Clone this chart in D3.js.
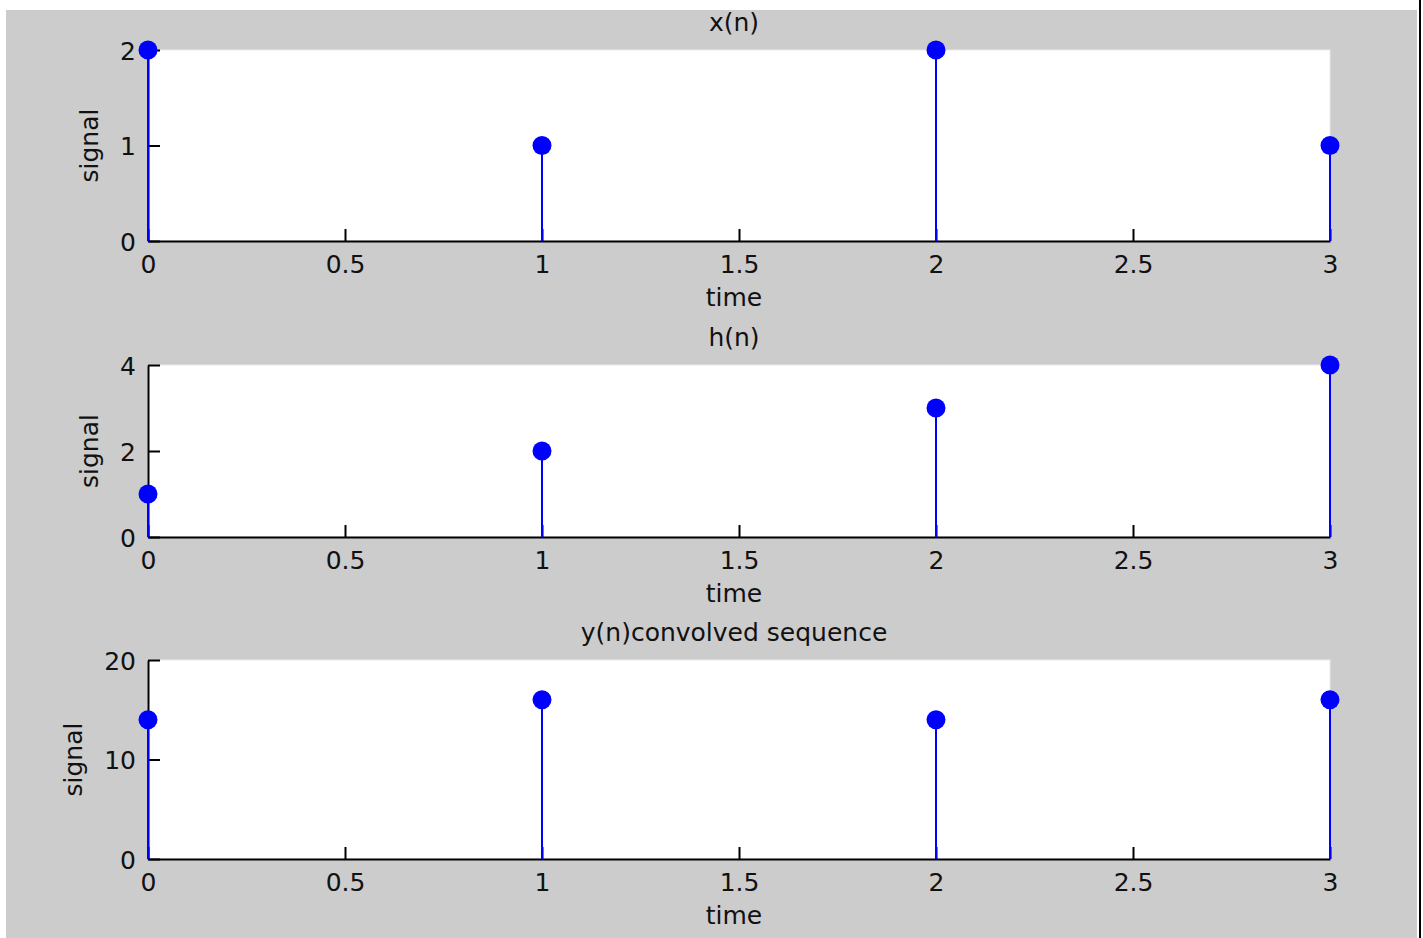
<!DOCTYPE html>
<html>
<head>
<meta charset="utf-8">
<script src="https://cdn.jsdelivr.net/npm/d3@7"></script>
<style>
  html, body { margin: 0; padding: 0; background: #ffffff; }
  svg { display: block; }
  text { font-family: "DejaVu Sans", Verdana, sans-serif; fill: #111; }
</style>
</head>
<body>
<script>
// Discrete-time sequences (sample index n = 0..3)
const times = [0, 1, 2, 3];
const xSeq = [2, 1, 2, 1];          // input x(n)
const hSeq = [1, 2, 3, 4];          // impulse response h(n)
const ySeq = [14, 16, 14, 16];      // circular convolution y(n)

const titles = ["x(n)", "h(n)", "y(n)convolved sequence"];
const xTicks = [0, 0.5, 1, 1.5, 2, 2.5, 3];
const yTicks1 = [0, 1, 2];
const yTicks2 = [0, 2, 4];
const yTicks3 = [0, 10, 20];
const yMax = [2, 4, 20];
const xLabel = "time";
const yLabel = "signal";

const W = 1423, H = 938;
const svg = d3.select("body").append("svg").attr("width", W).attr("height", H);

// figure background and window edge
svg.append("rect").attr("x", 6).attr("y", 10).attr("width", 1411).attr("height", H - 10).attr("fill", "#cccccc");
svg.append("rect").attr("x", 1419).attr("y", 0).attr("width", 2).attr("height", H).attr("fill", "#000");

const left = 148, right = 1330;
const panels = [
  { top: 50, bottom: 241, data: xSeq, ticks: yTicks1, max: yMax[0], title: titles[0], labelX: 90 },
  { top: 365, bottom: 537, data: hSeq, ticks: yTicks2, max: yMax[1], title: titles[1], labelX: 90 },
  { top: 660, bottom: 859, data: ySeq, ticks: yTicks3, max: yMax[2], title: titles[2], labelX: 74 }
];

const fs = 25;
const x = d3.scaleLinear().domain([0, 3]).range([left, right]);

panels.forEach(p => {
  const y = d3.scaleLinear().domain([0, p.max]).range([p.bottom, p.top]);
  const g = svg.append("g");

  // plot area
  g.append("rect").attr("x", left).attr("y", p.top)
    .attr("width", right - left).attr("height", p.bottom - p.top)
    .attr("fill", "#fff").attr("stroke", "#e9e9e9").attr("stroke-width", 1);

  // x axis (ticks pointing inward)
  const xa = g.append("g").attr("transform", `translate(0,${p.bottom})`)
    .call(d3.axisBottom(x).tickValues(xTicks).tickSizeInner(-12).tickSizeOuter(0).tickPadding(14)
      .tickFormat(d3.format("")));
  // y axis
  const ya = g.append("g").attr("transform", `translate(${left},0)`)
    .call(d3.axisLeft(y).tickValues(p.ticks).tickSizeInner(-12).tickSizeOuter(0).tickPadding(12)
      .tickFormat(d3.format("")));

  [xa, ya].forEach(a => {
    a.select(".domain").attr("stroke", "#000").attr("stroke-width", 2);
    a.selectAll(".tick line").attr("stroke", "#000").attr("stroke-width", 2);
    a.selectAll(".tick text").attr("font-size", fs).attr("font-family", "DejaVu Sans, Verdana, sans-serif").attr("fill", "#111");
  });
  ya.selectAll(".tick text").attr("dy", "0.36em");

  // stems and markers
  g.selectAll("line.stem").data(times).join("line").attr("class", "stem")
    .attr("x1", d => x(d)).attr("x2", d => x(d))
    .attr("y1", y(0)).attr("y2", (d, i) => y(p.data[i]))
    .attr("stroke", "#0000ff").attr("stroke-width", 2);
  g.selectAll("circle.mark").data(times).join("circle").attr("class", "mark")
    .attr("cx", d => x(d)).attr("cy", (d, i) => y(p.data[i]))
    .attr("r", 9.5).attr("fill", "#0000ff");

  // title and axis labels
  g.append("text").attr("x", 734).attr("y", p.top - 19)
    .attr("text-anchor", "middle").attr("font-size", fs).text(p.title);
  g.append("text").attr("x", 734).attr("y", p.bottom + 65)
    .attr("text-anchor", "middle").attr("font-size", fs).text(xLabel);
  g.append("text")
    .attr("transform", `translate(${p.labelX + 8},${(p.top + p.bottom) / 2}) rotate(-90)`)
    .attr("text-anchor", "middle").attr("font-size", fs).text(yLabel);
});
</script>
</body>
</html>
